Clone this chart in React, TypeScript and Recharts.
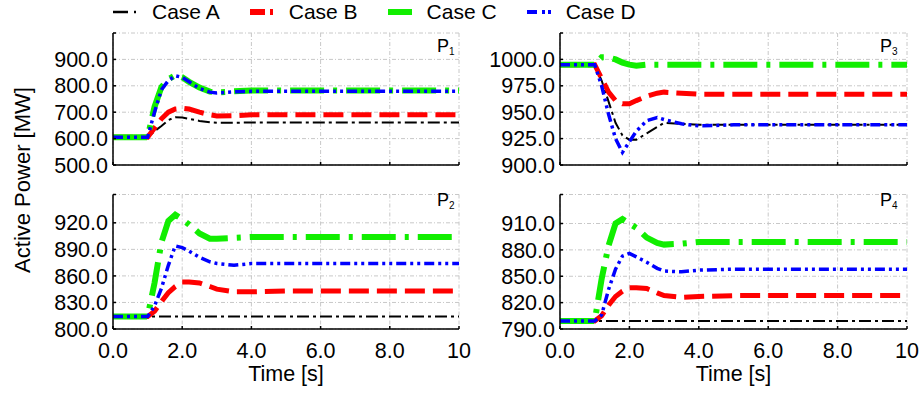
import React from 'react';
import { LineChart, Line, XAxis, YAxis, CartesianGrid, Label } from 'recharts';

// time samples [s]
const TIME = [0, 0.5, 1.0, 1.2, 1.4, 1.6, 1.8, 2.0, 2.2, 2.5, 2.8, 3.0, 3.5, 4.0, 5.0, 6.0, 7.0, 8.0, 9.0, 10.0];

// P1 [MW]
const P1_A = [605, 605, 605, 628, 648, 670, 681, 680, 675, 667, 662, 660, 660, 661, 661, 661, 661, 661, 661, 661];
const P1_B = [605, 605, 605, 640, 675, 700, 712, 715, 712, 700, 690, 686, 687, 690, 690, 690, 690, 690, 690, 690];
const P1_C = [605, 605, 605, 720, 795, 825, 840, 832, 815, 793, 778, 775, 779, 782, 782, 782, 782, 782, 782, 782];
const P1_D = [605, 605, 605, 700, 785, 820, 838, 832, 815, 790, 776, 773, 777, 779, 779, 779, 779, 779, 779, 779];

// P2 [MW]
const P2_A = [814, 814, 814, 814, 814, 814, 814, 814, 814, 814, 814, 814, 814, 814, 814, 814, 814, 814, 814, 814];
const P2_B = [814, 814, 814, 820, 831, 841, 848, 853, 853, 852, 848, 845, 842, 842, 843, 843, 843, 843, 843, 843];
const P2_C = [814, 814, 814, 852, 898, 922, 929, 924, 918, 908, 902, 902, 903, 904, 904, 904, 904, 904, 904, 904];
const P2_D = [814, 814, 814, 826, 846, 872, 894, 892, 888, 881, 876, 874, 872, 874, 874, 874, 874, 874, 874, 874];

// P3 [MW]
const P3_A = [995, 995, 995, 980, 960, 940, 928, 924, 924, 930, 936, 940, 939, 938, 938, 938, 938, 938, 938, 938];
const P3_B = [995, 995, 995, 982, 969, 961, 958, 958, 961, 965, 968, 969, 968, 967, 967, 967, 967, 967, 967, 967];
const P3_C = [995, 995, 995, 1002, 1002, 1000, 997, 995, 994, 995, 995, 995, 995, 995, 995, 995, 995, 995, 995, 995];
const P3_D = [995, 995, 995, 975, 948, 925, 912, 922, 932, 942, 945, 943, 939, 937, 938, 938, 938, 938, 938, 938];

// P4 [MW]
const P4_A = [799, 799, 799, 799, 799, 799, 799, 799, 799, 799, 799, 799, 799, 799, 799, 799, 799, 799, 799, 799];
const P4_B = [799, 799, 799, 805, 817, 827, 833, 837, 837, 836, 831, 828, 826, 827, 828, 828, 828, 828, 828, 828];
const P4_C = [799, 799, 799, 847, 885, 910, 915, 910, 905, 894, 888, 886, 887, 889, 889, 889, 889, 889, 889, 889];
const P4_D = [799, 799, 799, 806, 835, 858, 873, 876, 872, 866, 859, 856, 855, 857, 858, 858, 858, 858, 858, 858];

const X_TICKS = [0, 2, 4, 6, 8, 10];
const P1_TICKS = [500, 600, 700, 800, 900, 1000];
const P2_TICKS = [800, 830, 860, 890, 920, 952];
const P3_TICKS = [900, 925, 950, 975, 1000, 1025];
const P4_TICKS = [790, 820, 850, 880, 910, 943];

const SERIES = [
  { key: 'A', name: 'Case A', color: '#000000', width: 2, dash: '12 4 3 4' },
  { key: 'B', name: 'Case B', color: '#ff0000', width: 5, dash: '20 8' },
  { key: 'C', name: 'Case C', color: '#11ee00', width: 6, dash: '34 9 4 9' },
  { key: 'D', name: 'Case D', color: '#0000ff', width: 3.5, dash: '10 4 3 4 3 4' },
];

// legend sample dash patterns
const LEGEND_DASH = ['15 6 2 10', '15 5 3 10', '', '10 5 3 3 3 10'];

const FONT = '"Liberation Sans", Arial, sans-serif';
const GRID = '#c8c8c8';

function rows(a: number[], b: number[], c: number[], d: number[]) {
  return TIME.map((t, i) => ({ t, A: a[i], B: b[i], C: c[i], D: d[i] }));
}

interface PanelProps {
  left: number;
  top: number;
  width: number;
  height: number;
  yWidth: number;
  mRight: number;
  mTop: number;
  ticks: number[];
  data: any[];
  bottom: boolean;
  sub: string;
  subX: number;
  subY: number;
}

function Panel({ left, top, width, height, yWidth, mRight, mTop, ticks, data, bottom, sub, subX, subY }: PanelProps) {
  const yMax = ticks[ticks.length - 1];
  return (
    <div style={{ position: 'absolute', left, top, width, height }}>
      <LineChart
        width={width}
        height={height}
        data={data}
        margin={{ top: mTop, right: mRight, left: 0, bottom: bottom ? 11 : 10 }}
      >
        <CartesianGrid stroke={GRID} strokeDasharray="4 2 1 2" />
        <XAxis
          type="number"
          dataKey="t"
          domain={[0, 10]}
          ticks={X_TICKS}
          interval={0}
          height={bottom ? 54 : 8}
          tickSize={-3}
          tickMargin={17}
          stroke="#000"
          strokeWidth={1.5}
          tick={{ fill: '#000', fontSize: 21.5 }}
          tickFormatter={(v: number) => (bottom ? (v === 10 ? '10' : v.toFixed(1)) : '')}
        >
          {bottom && <Label value="Time [s]" position="insideBottom" offset={2} fill="#000" fontSize={21.5} />}
        </XAxis>
        <YAxis
          type="number"
          domain={[ticks[0], yMax]}
          ticks={ticks}
          interval={0}
          width={yWidth}
          tickSize={-3}
          tickMargin={8}
          stroke="#000"
          strokeWidth={1.5}
          allowDataOverflow
          tick={{ fill: '#000', fontSize: 21.5 }}
          tickFormatter={(v: number) => (v === yMax ? '' : v.toFixed(1))}
        />
        {SERIES.map((s) => (
          <Line
            key={s.key}
            type="linear"
            dataKey={s.key}
            stroke={s.color}
            strokeWidth={s.width}
            strokeDasharray={s.dash}
            dot={false}
            isAnimationActive={false}
          />
        ))}
      </LineChart>
      <div
        style={{
          position: 'absolute',
          left: subX,
          top: subY,
          fontSize: 18,
          lineHeight: '20px',
          color: '#000',
        }}
      >
        P<span style={{ fontSize: 10, position: 'relative', top: 3 }}>{sub}</span>
      </div>
    </div>
  );
}

export default function App() {
  return (
    <div
      style={{
        position: 'absolute',
        left: 0,
        top: 0,
        width: 921,
        height: 396,
        background: '#fff',
        fontFamily: FONT,
        overflow: 'hidden',
      }}
    >
      {/* legend */}
      <div style={{ position: 'absolute', left: 113, top: 0, display: 'flex', alignItems: 'center', fontSize: 21, lineHeight: 'normal' }}>
        {SERIES.map((s, i) => (
          <div key={s.key} style={{ display: 'flex', alignItems: 'center', marginRight: i < SERIES.length - 1 ? 30 : 0 }}>
            <svg width={24} height={12} style={{ marginRight: 15 }}>
              <line
                x1={0}
                y1={6}
                x2={24}
                y2={6}
                stroke={s.color}
                strokeWidth={s.key === 'A' ? 2.5 : s.key === 'D' ? 4 : 6}
                strokeDasharray={LEGEND_DASH[i] || undefined}
              />
            </svg>
            <span>{s.name}</span>
          </div>
        ))}
      </div>

      {/* y axis title */}
      <div
        style={{
          position: 'absolute',
          left: 23 - 130,
          top: 180 - 13,
          width: 260,
          height: 26,
          lineHeight: '26px',
          fontSize: 22,
          textAlign: 'center',
          transform: 'rotate(-90deg)',
        }}
      >
        Active Power [MW]
      </div>

      <Panel left={30} top={20} width={445} height={163} yWidth={83} mRight={16} mTop={13} ticks={P1_TICKS} data={rows(P1_A, P1_B, P1_C, P1_D)} bottom={false} sub="1" subX={407} subY={16} />
      <Panel left={470} top={20} width={449} height={163} yWidth={90} mRight={12} mTop={13} ticks={P3_TICKS} data={rows(P3_A, P3_B, P3_C, P3_D)} bottom={false} sub="3" subX={410} subY={16} />
      <Panel left={30} top={182} width={445} height={212} yWidth={83} mRight={16} mTop={12.5} ticks={P2_TICKS} data={rows(P2_A, P2_B, P2_C, P2_D)} bottom={true} sub="2" subX={407} subY={8} />
      <Panel left={470} top={182} width={449} height={212} yWidth={90} mRight={12} mTop={12.5} ticks={P4_TICKS} data={rows(P4_A, P4_B, P4_C, P4_D)} bottom={true} sub="4" subX={410} subY={8} />
    </div>
  );
}
